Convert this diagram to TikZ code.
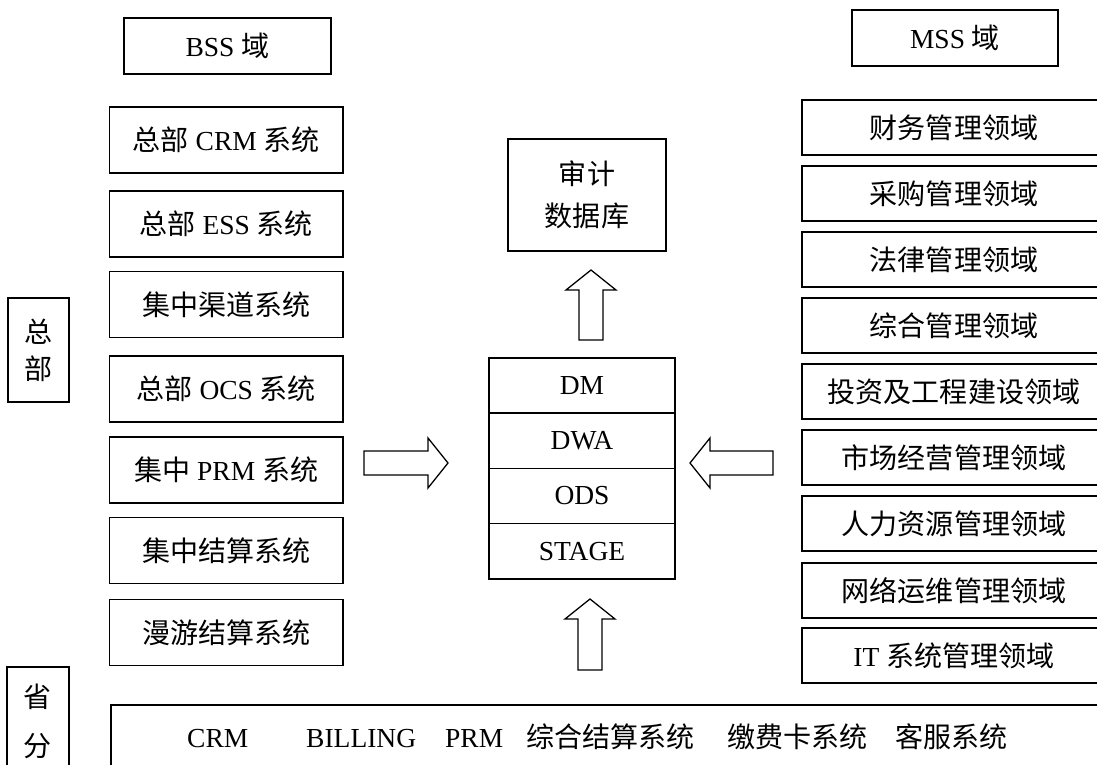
\documentclass[tikz,border=0pt]{standalone}
\usepackage{fontspec}
\setmainfont{Liberation Serif}
\newfontfamily\cjk[Scale=1.02]{Noto Sans CJK SC}
\newcommand\zh[1]{{\cjk #1}}
\newcommand\bodyfont{\fontsize{27.5}{34}\selectfont}

\tikzset{
  box/.style={draw, line width=1.6pt, rectangle, inner sep=0pt, font=\bodyfont},
  lbox/.style={box, minimum width=233.5pt, minimum height=66pt},
  rbox/.style={box, minimum width=304pt, minimum height=55pt},
  layer/.style={box, minimum width=186pt, minimum height=55.25pt},
  word/.style={inner sep=0pt, anchor=base west, font=\bodyfont},
  hollow arrow/.pic={
    \draw[line width=1.3pt, line join=miter]
      (0,-12) -- ({#1-20},-12) -- ({#1-20},-25) -- (#1,0)
      -- ({#1-20},25) -- ({#1-20},12) -- (0,12) -- cycle;
  }
}

\begin{document}
\begin{tikzpicture}[x=1pt, y=-1pt]
\useasboundingbox (0,0) rectangle (1097,765);

% domain headers
\node[box, minimum width=207pt, minimum height=56pt] (bss) at (227.5,46) {BSS \zh{域}};
\node[box, minimum width=206pt, minimum height=56pt] (mss) at (955,38) {MSS \zh{域}};

% headquarters systems (BSS)
\node[lbox] (hqcrm)  at (226.25,140)   {\zh{总部} CRM \zh{系统}};
\node[lbox] (hqess)  at (226.25,224)   {\zh{总部} ESS \zh{系统}\hspace{17pt}};
\node[lbox] (chan)   at (226.25,304.5) {\zh{集中渠道系统}};
\node[lbox] (hqocs)  at (226.25,389)   {\zh{总部} OCS \zh{系统}\hspace{8pt}};
\node[lbox] (prm)    at (226.25,470)   {\zh{集中} PRM \zh{系统}\hspace{8pt}};
\node[lbox] (settle) at (226.25,550.5) {\zh{集中结算系统}};
\node[lbox] (roam)   at (226.25,632.5) {\zh{漫游结算系统}};

% side labels
\node[box, minimum width=61pt, minimum height=104pt, align=center,
      font=\fontsize{27.5}{37}\selectfont] (hq) at (38.5,350) {\zh{总}\\\zh{部}};
\node[box, minimum width=62pt, minimum height=110pt, anchor=north, align=center,
      font=\fontsize{27.5}{49}\selectfont] (prov) at (38,666) {\zh{省}\\\zh{分}};

% management domains (MSS)
\node[rbox] (fin)   at (954,127.5) {\zh{财务管理领域}};
\node[rbox] (purch) at (954,193.5) {\zh{采购管理领域}};
\node[rbox] (legal) at (954,259.5) {\zh{法律管理领域}};
\node[rbox] (gen)   at (954,325.5) {\zh{综合管理领域}};
\node[rbox] (invest)at (954,391.5) {\zh{投资及工程建设领域}};
\node[rbox] (mkt)   at (954,457.5) {\zh{市场经营管理领域}};
\node[rbox] (hr)    at (954,523.5) {\zh{人力资源管理领域}};
\node[rbox] (netop) at (954,590.5) {\zh{网络运维管理领域}};
\node[rbox] (itsys) at (954,655.5) {IT \zh{系统管理领域}};

% audit database
\node[box, minimum width=158pt, minimum height=112pt, align=center,
      font=\fontsize{27.5}{42}\selectfont] (audit) at (587,195) {\zh{审计}\\\zh{数据库}};

% warehouse layers
\node[layer] (dm)    at (582,385.5) {DM};
\node[layer] (dwa)   at (582,440.75) {DWA};
\node[layer] (ods)   at (582,496) {ODS};
\node[layer] (stage) at (582,551.25) {STAGE};

% provincial systems
\node[draw, line width=1.6pt, rectangle, inner sep=0pt, anchor=north west,
      minimum width=1010pt, minimum height=100pt] (provsys) at (110,704) {};
\node[word] (pcrm)  at (187,747) {CRM};
\node[word] (pbill) at (306,747) {BILLING};
\node[word] (pprm)  at (445,747) {PRM};
\node[word] (psett) at (526,747) {\zh{综合结算系统}};
\node[word] (pcard) at (727,747) {\zh{缴费卡系统}};
\node[word] (psvc)  at (895,747) {\zh{客服系统}};

% data flow arrows
\pic[rotate=90]  at (591,340) {hollow arrow=70};
\pic[rotate=90]  at (590,670) {hollow arrow=71};
\pic             at (364,463) {hollow arrow=84};
\pic[rotate=180] at (773,463) {hollow arrow=83};
\end{tikzpicture}
\end{document}
